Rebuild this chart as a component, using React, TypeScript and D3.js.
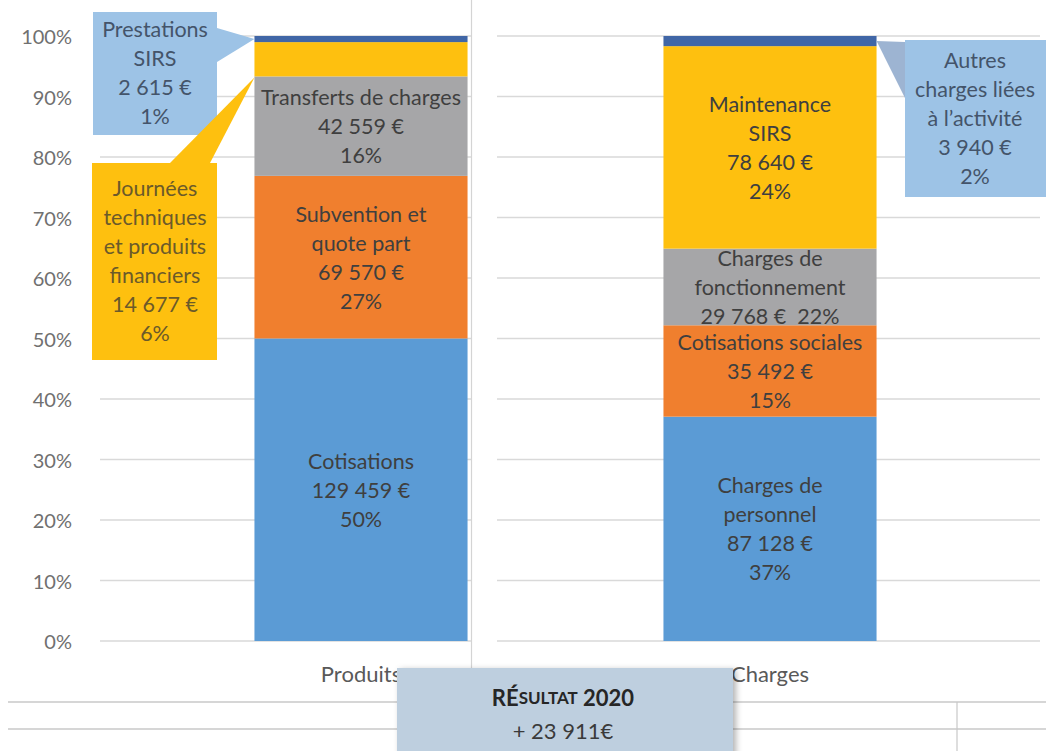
import React from 'react';
import * as d3 from 'd3';

// taille fixe du graphique
const width = 1046;
const height = 751;

const categories = ['Produits', 'Charges'];
const seriesKeys = ['s0', 's1', 's2', 's3', 's4'];
const colors = ['#5B9BD5', '#F07F2E', '#A6A6A8', '#FEC00F', '#4066A6'];

// Produits (du bas vers le haut)
const produitsValues = [129459, 69570, 42559, 14677, 2615];
const produitsNames = [
  ['Cotisations'],
  ['Subvention et', 'quote part'],
  ['Transferts de charges'],
  ['Journées', 'techniques', 'et produits', 'financiers'],
  ['Prestations', 'SIRS'],
];
const produitsPct = ['50%', '27%', '16%', '6%', '1%'];

// Charges (du bas vers le haut)
const chargesValues = [87128, 35492, 29768, 78640, 3940];
const chargesNames = [
  ['Charges de', 'personnel'],
  ['Cotisations sociales'],
  ['Charges de', 'fonctionnement'],
  ['Maintenance', 'SIRS'],
  ['Autres', 'charges liées', 'à l\u2019activité'],
];
const chargesPct = ['37%', '15%', '22%', '24%', '2%'];

const resultTitle = 'RÉSULTAT 2020';
const resultValue = 23911;

const fr = d3.formatLocale({ decimal: ',', thousands: '\u00a0', grouping: [3], currency: ['', ' €'] });
const money = fr.format(',d');

const values = [produitsValues, chargesValues];
const names = [produitsNames, chargesNames];
const pcts = [produitsPct, chargesPct];

const rows = categories.map((c, i) => {
  const r: any = { cat: c };
  seriesKeys.forEach((k, j) => (r[k] = values[i][j]));
  return r;
});

const stacked = d3.stack<any>().keys(seriesKeys).offset(d3.stackOffsetExpand)(rows);

const x = d3.scaleBand().domain(categories).range([156.5, 974.5]).paddingInner(0.479).paddingOuter(0.2395);
const y = d3.scaleLinear().domain([0, 1]).range([641, 36]);

const FONT = "Lato, 'Open Sans', sans-serif";
const LH = 29;

function labelLines(ci: number, si: number): string[] {
  const v = money(values[ci][si]) + '\u00a0€';
  // les charges de fonctionnement ont le montant et le % sur la même ligne
  if (ci === 1 && si === 2) return [...names[ci][si], v + '  ' + pcts[ci][si]];
  return [...names[ci][si], v, pcts[ci][si]];
}

function Lines({ lines, cx, cy, fill, size = 21.5 }: any) {
  const top = cy - ((lines.length - 1) * LH) / 2;
  return (
    <text fontFamily={FONT} fontSize={size} fill={fill} textAnchor="middle" style={{ whiteSpace: 'pre' }}>
      {lines.map((l: string, i: number) => (
        <tspan key={i} x={cx} y={top + i * LH} dominantBaseline="central">{l}</tspan>
      ))}
    </text>
  );
}

export default function App() {
  const ticks = y.ticks(10);
  const bw = x.bandwidth();
  const xp = x('Produits')!;
  const xc = x('Charges')!;
  const segP = (k: number) => stacked[k][0];
  const segC = (k: number) => stacked[k][1];

  // points d'ancrage des bulles
  const pTop = [xp, y((segP(4)[0] + segP(4)[1]) / 2)];
  const pJour = [xp, y((segP(3)[0] + segP(3)[1]) / 2 - 0.03)];
  const cTop = [xc + bw, y((segC(4)[0] + segC(4)[1]) / 2)];

  return (
    <svg width={width} height={height} style={{ position: 'absolute', left: 0, top: 0, background: '#fff' }}>
      <defs>
        <filter id="shadow" x="-10%" y="-20%" width="130%" height="150%">
          <feDropShadow dx="3" dy="2" stdDeviation="3" floodColor="#000" floodOpacity="0.3" />
        </filter>
      </defs>

      {/* grille */}
      {ticks.map((t) => (
        <g key={t}>
          <line x1={100} x2={471} y1={y(t)} y2={y(t)} stroke="#D9D9D9" strokeWidth={1.5} />
          <line x1={497} x2={1040} y1={y(t)} y2={y(t)} stroke="#D9D9D9" strokeWidth={1.5} />
          <text x={72} y={y(t)} dominantBaseline="central" textAnchor="end" fontFamily={FONT} fontSize={20} fill="#707070">
            {d3.format('.0%')(t)}
          </text>
        </g>
      ))}

      {/* séparateur vertical */}
      <line x1={471.5} x2={471.5} y1={0} y2={702} stroke="#D4D4D4" strokeWidth={1.2} />

      {/* barres empilées */}
      {stacked.map((s, k) =>
        s.map((d, ci) => (
          <rect
            key={k + '-' + ci}
            x={x(categories[ci])}
            width={bw}
            y={y(d[1])}
            height={y(d[0]) - y(d[1])}
            fill={colors[k]}
          />
        ))
      )}

      {/* étiquettes dans les barres */}
      {stacked.map((s, k) =>
        s.map((d, ci) => {
          if (k === 4 || (ci === 0 && k === 3)) return null;
          const cx = x(categories[ci])! + bw / 2;
          const cy = y((d[0] + d[1]) / 2);
          return <Lines key={'l' + k + ci} lines={labelLines(ci, k)} cx={cx} cy={cy} fill="#3F3F3F" />;
        })
      )}

      {/* bulle Prestations SIRS */}
      <polygon points={`217,28 ${pTop[0]},${pTop[1]} 217,62`} fill="#9DC3E6" />
      <rect x={93} y={12} width={124} height={123} fill="#9DC3E6" />
      <Lines lines={labelLines(0, 4)} cx={155} cy={72} fill="#44546A" />

      {/* bulle Journées techniques */}
      <polygon points={`170,163 ${pJour[0]},${pJour[1]} 210,163`} fill="#FEC00F" />
      <rect x={92} y={163} width={125} height={197} fill="#FEC00F" />
      <Lines lines={labelLines(0, 3)} cx={155} cy={260} fill="#6B5A2A" />

      {/* bulle Autres charges */}
      <polygon points={`${cTop[0]},${cTop[1]} 905,42 905,98`} fill="#9DB4D2" />
      <rect x={905} y={40} width={141} height={157} fill="#9DC3E6" />
      <Lines lines={labelLines(1, 4)} cx={975} cy={118} fill="#44546A" />

      {/* libellés des catégories */}
      {categories.map((c) => (
        <text key={c} x={x(c)! + bw / 2} y={673} textAnchor="middle" dominantBaseline="central" fontFamily={FONT} fontSize={22} fill="#595959">
          {c}
        </text>
      ))}

      {/* tableau en bas */}
      <line x1={8} x2={1046} y1={702} y2={702} stroke="#C8C8C8" strokeWidth={1.5} />
      <line x1={8} x2={1046} y1={729} y2={729} stroke="#C8C8C8" strokeWidth={1.5} />
      <line x1={957} x2={957} y1={702} y2={751} stroke="#C8C8C8" strokeWidth={1.2} />

      {/* encadré résultat */}
      <rect x={397} y={668} width={336} height={90} fill="#BECFDF" filter="url(#shadow)" />
      <text x={563} y={697} textAnchor="middle" dominantBaseline="central" fontFamily={FONT} fontWeight="bold" fill="#262626">
        <tspan fontSize={22}>{resultTitle.slice(0, 2)}</tspan>
        <tspan fontSize={17}>{resultTitle.slice(2, 8)}</tspan>
        <tspan fontSize={22}>{resultTitle.slice(8)}</tspan>
      </text>
      <text x={563} y={730} textAnchor="middle" dominantBaseline="central" fontFamily={FONT} fontSize={22} fill="#3A3A3A">
        {'+ ' + money(resultValue) + '€'}
      </text>
    </svg>
  );
}
